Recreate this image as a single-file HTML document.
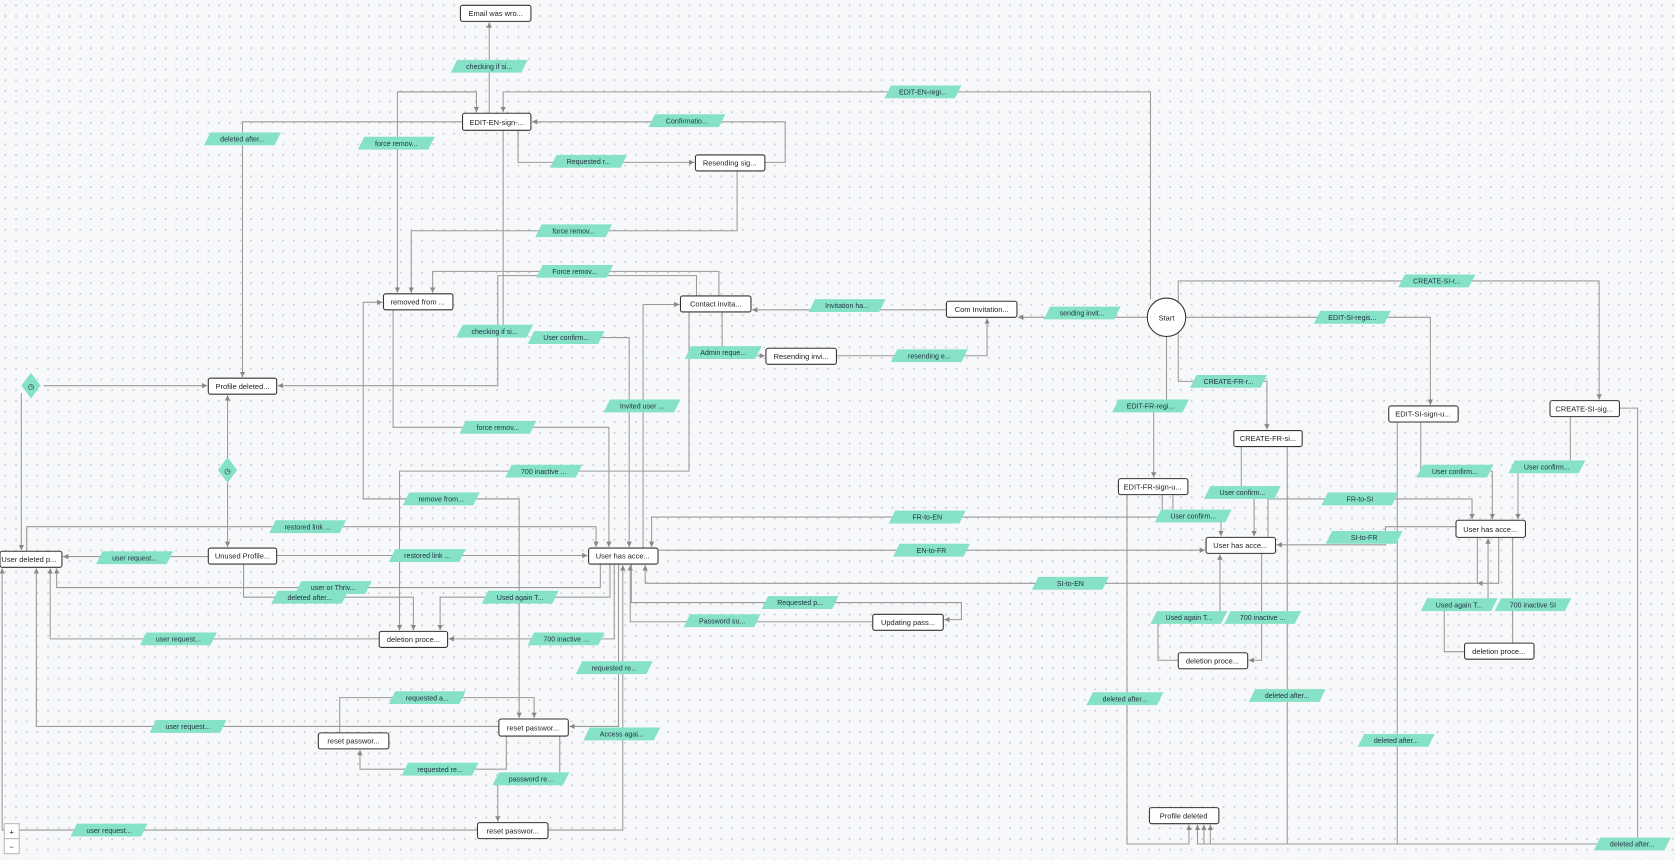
<!DOCTYPE html>
<html><head><meta charset="utf-8"><style>
html,body{margin:0;padding:0;width:1675px;height:860px;overflow:hidden;background:#f7f8fa;}
.bg{position:absolute;left:0;top:0;width:1675px;height:860px;background-color:#f7f8fa;background-image:radial-gradient(circle,#c9cdd4 0.8px,transparent 1.1px);background-size:10.7px 10.7px;}
svg{position:absolute;left:0;top:0;}
text{font-family:"Liberation Sans",sans-serif;}
.n text{font-size:7px;fill:#222;text-anchor:middle;}
.e{fill:none;stroke:#9a9a9a;stroke-width:1;marker-end:url(#a);}
.l{fill:#86e2c6;}
.lt{font-size:6.6px;fill:#234;text-anchor:middle;}
</style></head><body><div class="bg"></div>
<svg width="1675" height="860" viewBox="0 0 1568 805" preserveAspectRatio="none">
<defs>
<marker id="a" markerWidth="6" markerHeight="6" refX="5" refY="3" orient="auto" markerUnits="userSpaceOnUse"><path d="M0,0.5 L5,3 L0,5.5z" fill="#888"/></marker>
<polygon id="lb" points="-30,-6 36,-6 30,6 -36,6"/>
</defs>
<g>
<path class="e" d="M458,106 V21"/>
<path class="e" d="M1077,280 V86 H471 V105"/>
<path class="e" d="M446,86 H372 V274"/>
<path class="e" d="M372,86 H446 V105"/>
<path class="e" d="M433,114 H227 V353"/>
<path class="e" d="M716,152 H735 V114 H498"/>
<path class="e" d="M485,122 V152 H650"/>
<path class="e" d="M690,160 V216 H385 V274"/>
<path class="e" d="M673,277 V254 H405 V274"/>
<path class="e" d="M652,277 V258 H466 V361 H260"/>
<path class="e" d="M471,122 V310"/>
<path class="e" d="M886,290 H704"/>
<path class="e" d="M1074,297 H953"/>
<path class="e" d="M676,292 V333 H716"/>
<path class="e" d="M783,333 H924 V298"/>
<path class="e" d="M486,467 H340 V283 H358"/>
<path class="e" d="M340,467 H486 V672"/>
<path class="e" d="M368,290 V400 H570 V512"/>
<path class="e" d="M500,316 H589 V512"/>
<path class="e" d="M602,513 V285 H636"/>
<path class="e" d="M645,292 V441 H374 V590"/>
<path class="e" d="M25,516 V493 H558 V512"/>
<path class="e" d="M195,521 H59"/>
<path class="e" d="M259,520 H550"/>
<path class="e" d="M562,528 V550 H53 V532"/>
<path class="e" d="M228,528 V559 H387 V590"/>
<path class="e" d="M571,528 V559 H412 V590"/>
<path class="e" d="M355,598 H47 V532"/>
<path class="e" d="M575,528 V598 H420"/>
<path class="e" d="M41,361 H194"/>
<path class="e" d="M20,368 V515"/>
<path class="e" d="M213,429 V370"/>
<path class="e" d="M213,452 V512"/>
<path class="e" d="M447,777 H2 V532"/>
<path class="e" d="M467,680 H34 V532"/>
<path class="e" d="M318,686 V653 H500 V672"/>
<path class="e" d="M579,528 V680 H533"/>
<path class="e" d="M513,777 H583 V529"/>
<path class="e" d="M474,689 V720 H337 V702"/>
<path class="e" d="M524,689 V729 H466 V769"/>
<path class="e" d="M591,528 V564 H900 V580 H884"/>
<path class="e" d="M817,582 H590 V529"/>
<path class="e" d="M1088,463 V484 H610 V512"/>
<path class="e" d="M617,515 H1128"/>
<path class="e" d="M1383,503 V546 H604 V529"/>
<path class="e" d="M1403,503 V546 H1383"/>
<path class="e" d="M1162,418 V461 H1174 V502"/>
<path class="e" d="M1098,463 V483 H1143 V502"/>
<path class="e" d="M1187,503 V467 H1378 V486"/>
<path class="e" d="M1363,493 H1297 V510 H1195"/>
<path class="e" d="M1330,395 V441 H1397 V486"/>
<path class="e" d="M1470,390 V437 H1421 V486"/>
<path class="e" d="M1110,297 H1339 V379"/>
<path class="e" d="M1103,285 V263 H1497 V374"/>
<path class="e" d="M1103,310 V357 H1186 V402"/>
<path class="e" d="M1092,315 V380 H1080 V447"/>
<path class="e" d="M1103,618 H1084 V578 H1142 V519"/>
<path class="e" d="M1181,518 V618 H1169"/>
<path class="e" d="M1371,610 H1352 V566 H1393 V504"/>
<path class="e" d="M1416,503 V610 H1437"/>
<path class="e" d="M1055,463 V790 H1113 V772"/>
<path class="e" d="M1205,418 V790 H1121 V772"/>
<path class="e" d="M1308,395 V790 H1127 V772"/>
<path class="e" d="M1516,382 H1533 V790 H1133 V772"/>
</g>
<g class="n" fill="#fff" stroke="#333" stroke-width="1">
<rect x="431" y="5" width="66" height="15" rx="2"/>
<rect x="433" y="106" width="64" height="16" rx="2"/>
<rect x="651" y="145" width="65" height="15" rx="2"/>
<rect x="359" y="275" width="65" height="15" rx="2"/>
<rect x="637" y="277" width="66" height="15" rx="2"/>
<rect x="886" y="282" width="66" height="15" rx="2"/>
<rect x="717" y="326" width="66" height="15" rx="2"/>
<rect x="195" y="354" width="64" height="15" rx="2"/>
<rect x="0" y="516" width="58" height="15" rx="2"/>
<rect x="195" y="513" width="64" height="15" rx="2"/>
<rect x="551" y="513" width="65" height="15" rx="2"/>
<rect x="355" y="591" width="64" height="15" rx="2"/>
<rect x="817" y="575" width="66" height="15" rx="2"/>
<rect x="467" y="673" width="65" height="16" rx="2"/>
<rect x="298" y="686" width="66" height="15" rx="2"/>
<rect x="447" y="770" width="66" height="15" rx="2"/>
<rect x="1047" y="448" width="65" height="15" rx="2"/>
<rect x="1155" y="403" width="64" height="15" rx="2"/>
<rect x="1300" y="380" width="65" height="15" rx="2"/>
<rect x="1451" y="375" width="65" height="15" rx="2"/>
<rect x="1129" y="503" width="65" height="15" rx="2"/>
<rect x="1363" y="487" width="65" height="16" rx="2"/>
<rect x="1103" y="611" width="65" height="15" rx="2"/>
<rect x="1371" y="602" width="65" height="15" rx="2"/>
<rect x="1076" y="756" width="65" height="15" rx="2"/>
<circle cx="1092" cy="297" r="18"/>
<rect x="4" y="771" width="14" height="14" stroke="#bbb"/>
<rect x="4" y="785" width="14" height="14" stroke="#bbb"/>
</g>
<g fill="#86e2c6"><polygon points="29,349 38,361 29,373 20,361"/><polygon points="213,428 222,440 213,452 204,440"/></g>
<g class="n" stroke="none">
<text x="464" y="15">Email was wro...</text>
<text x="465" y="117">EDIT-EN-sign-...</text>
<text x="683" y="155">Resending sig...</text>
<text x="391" y="285">removed from ...</text>
<text x="670" y="287">Contact invita...</text>
<text x="919" y="292">Com Invitation...</text>
<text x="750" y="336">Resending invi...</text>
<text x="227" y="364">Profile deleted...</text>
<text x="27" y="526">User deleted p...</text>
<text x="227" y="523">Unused Profile...</text>
<text x="583" y="523">User has acce...</text>
<text x="387" y="601">deletion proce...</text>
<text x="850" y="585">Updating pass...</text>
<text x="499" y="684">reset passwor...</text>
<text x="331" y="696">reset passwor...</text>
<text x="480" y="780">reset passwor...</text>
<text x="1079" y="458">EDIT-FR-sign-u...</text>
<text x="1187" y="413">CREATE-FR-si...</text>
<text x="1332" y="390">EDIT-SI-sign-u...</text>
<text x="1483" y="385">CREATE-SI-sig...</text>
<text x="1161" y="513">User has acce...</text>
<text x="1395" y="498">User has acce...</text>
<text x="1135" y="621">deletion proce...</text>
<text x="1403" y="612">deletion proce...</text>
<text x="1108" y="766">Profile deleted</text>
<text x="1092" y="300">Start</text>
<text x="11" y="781" font-size="9" fill="#666">+</text>
<text x="11" y="795" font-size="9" fill="#666">−</text>
<text x="29" y="364" font-size="6">◷</text>
<text x="213" y="443" font-size="6">◷</text>
</g>
<g class="l">
<use href="#lb" x="458" y="62"/><use href="#lb" x="864" y="86"/><use href="#lb" x="227" y="130"/><use href="#lb" x="371" y="134"/>
<use href="#lb" x="643" y="113"/><use href="#lb" x="551" y="151"/><use href="#lb" x="537" y="216"/><use href="#lb" x="538" y="254"/>
<use href="#lb" x="793" y="286"/><use href="#lb" x="1013" y="293"/><use href="#lb" x="463" y="310"/><use href="#lb" x="530" y="316"/>
<use href="#lb" x="677" y="330"/><use href="#lb" x="870" y="333"/><use href="#lb" x="1345" y="263"/><use href="#lb" x="1266" y="297"/>
<use href="#lb" x="1150" y="357"/><use href="#lb" x="1077" y="380"/><use href="#lb" x="601" y="380"/><use href="#lb" x="466" y="400"/>
<use href="#lb" x="509" y="441"/><use href="#lb" x="413" y="467"/><use href="#lb" x="288" y="493"/><use href="#lb" x="126" y="522"/>
<use href="#lb" x="400" y="520"/><use href="#lb" x="312" y="550"/><use href="#lb" x="290" y="559"/><use href="#lb" x="487" y="559"/>
<use href="#lb" x="167" y="598"/><use href="#lb" x="530" y="598"/><use href="#lb" x="575" y="625"/><use href="#lb" x="400" y="653"/>
<use href="#lb" x="176" y="680"/><use href="#lb" x="582" y="687"/><use href="#lb" x="412" y="720"/><use href="#lb" x="497" y="729"/>
<use href="#lb" x="102" y="777"/><use href="#lb" x="868" y="484"/><use href="#lb" x="872" y="515"/><use href="#lb" x="1002" y="546"/>
<use href="#lb" x="1163" y="461"/><use href="#lb" x="1117" y="483"/><use href="#lb" x="1273" y="467"/><use href="#lb" x="1277" y="503"/>
<use href="#lb" x="1362" y="441"/><use href="#lb" x="1448" y="437"/><use href="#lb" x="749" y="564"/><use href="#lb" x="676" y="581"/>
<use href="#lb" x="1113" y="578"/><use href="#lb" x="1182" y="578"/><use href="#lb" x="1366" y="566"/><use href="#lb" x="1435" y="566"/>
<use href="#lb" x="1053" y="654"/><use href="#lb" x="1205" y="651"/><use href="#lb" x="1307" y="693"/><use href="#lb" x="1528" y="790"/>
</g>
<g class="lt">
<text x="458" y="64.5">checking if si...</text><text x="864" y="88.5">EDIT-EN-regi...</text><text x="227" y="132.5">deleted after...</text><text x="371" y="136.5">force remov...</text>
<text x="643" y="115.5">Confirmatio...</text><text x="551" y="153.5">Requested r...</text><text x="537" y="218.5">force remov...</text><text x="538" y="256.5">Force remov...</text>
<text x="793" y="288.5">Invitation ha...</text><text x="1013" y="295.5">sending invit...</text><text x="463" y="312.5">checking if si...</text><text x="530" y="318.5">User confirm...</text>
<text x="677" y="332.5">Admin reque...</text><text x="870" y="335.5">resending e...</text><text x="1345" y="265.5">CREATE-SI-r...</text><text x="1266" y="299.5">EDIT-SI-regis...</text>
<text x="1150" y="359.5">CREATE-FR-r...</text><text x="1077" y="382.5">EDIT-FR-regi...</text><text x="601" y="382.5">Invited user ...</text><text x="466" y="402.5">force remov...</text>
<text x="509" y="443.5">700 inactive ...</text><text x="413" y="469.5">remove from...</text><text x="288" y="495.5">restored link ...</text><text x="126" y="524.5">user request...</text>
<text x="400" y="522.5">restored link ...</text><text x="312" y="552.5">user or Thriv...</text><text x="290" y="561.5">deleted after...</text><text x="487" y="561.5">Used again T...</text>
<text x="167" y="600.5">user request...</text><text x="530" y="600.5">700 inactive ...</text><text x="575" y="627.5">requested re...</text><text x="400" y="655.5">requested a...</text>
<text x="176" y="682.5">user request...</text><text x="582" y="689.5">Access agai...</text><text x="412" y="722.5">requested re...</text><text x="497" y="731.5">password re...</text>
<text x="102" y="779.5">user request...</text><text x="868" y="486.5">FR-to-EN</text><text x="872" y="517.5">EN-to-FR</text><text x="1002" y="548.5">SI-to-EN</text>
<text x="1163" y="463.5">User confirm...</text><text x="1117" y="485.5">User confirm...</text><text x="1273" y="469.5">FR-to-SI</text><text x="1277" y="505.5">SI-to-FR</text>
<text x="1362" y="443.5">User confirm...</text><text x="1448" y="439.5">User confirm...</text><text x="749" y="566.5">Requested p...</text><text x="676" y="583.5">Password su...</text>
<text x="1113" y="580.5">Used again T...</text><text x="1182" y="580.5">700 inactive ...</text><text x="1366" y="568.5">Used again T...</text><text x="1435" y="568.5">700 inactive SI</text>
<text x="1053" y="656.5">deleted after...</text><text x="1205" y="653.5">deleted after...</text><text x="1307" y="695.5">deleted after...</text><text x="1528" y="792.5">deleted after...</text>
</g>
</svg>
</body></html>
